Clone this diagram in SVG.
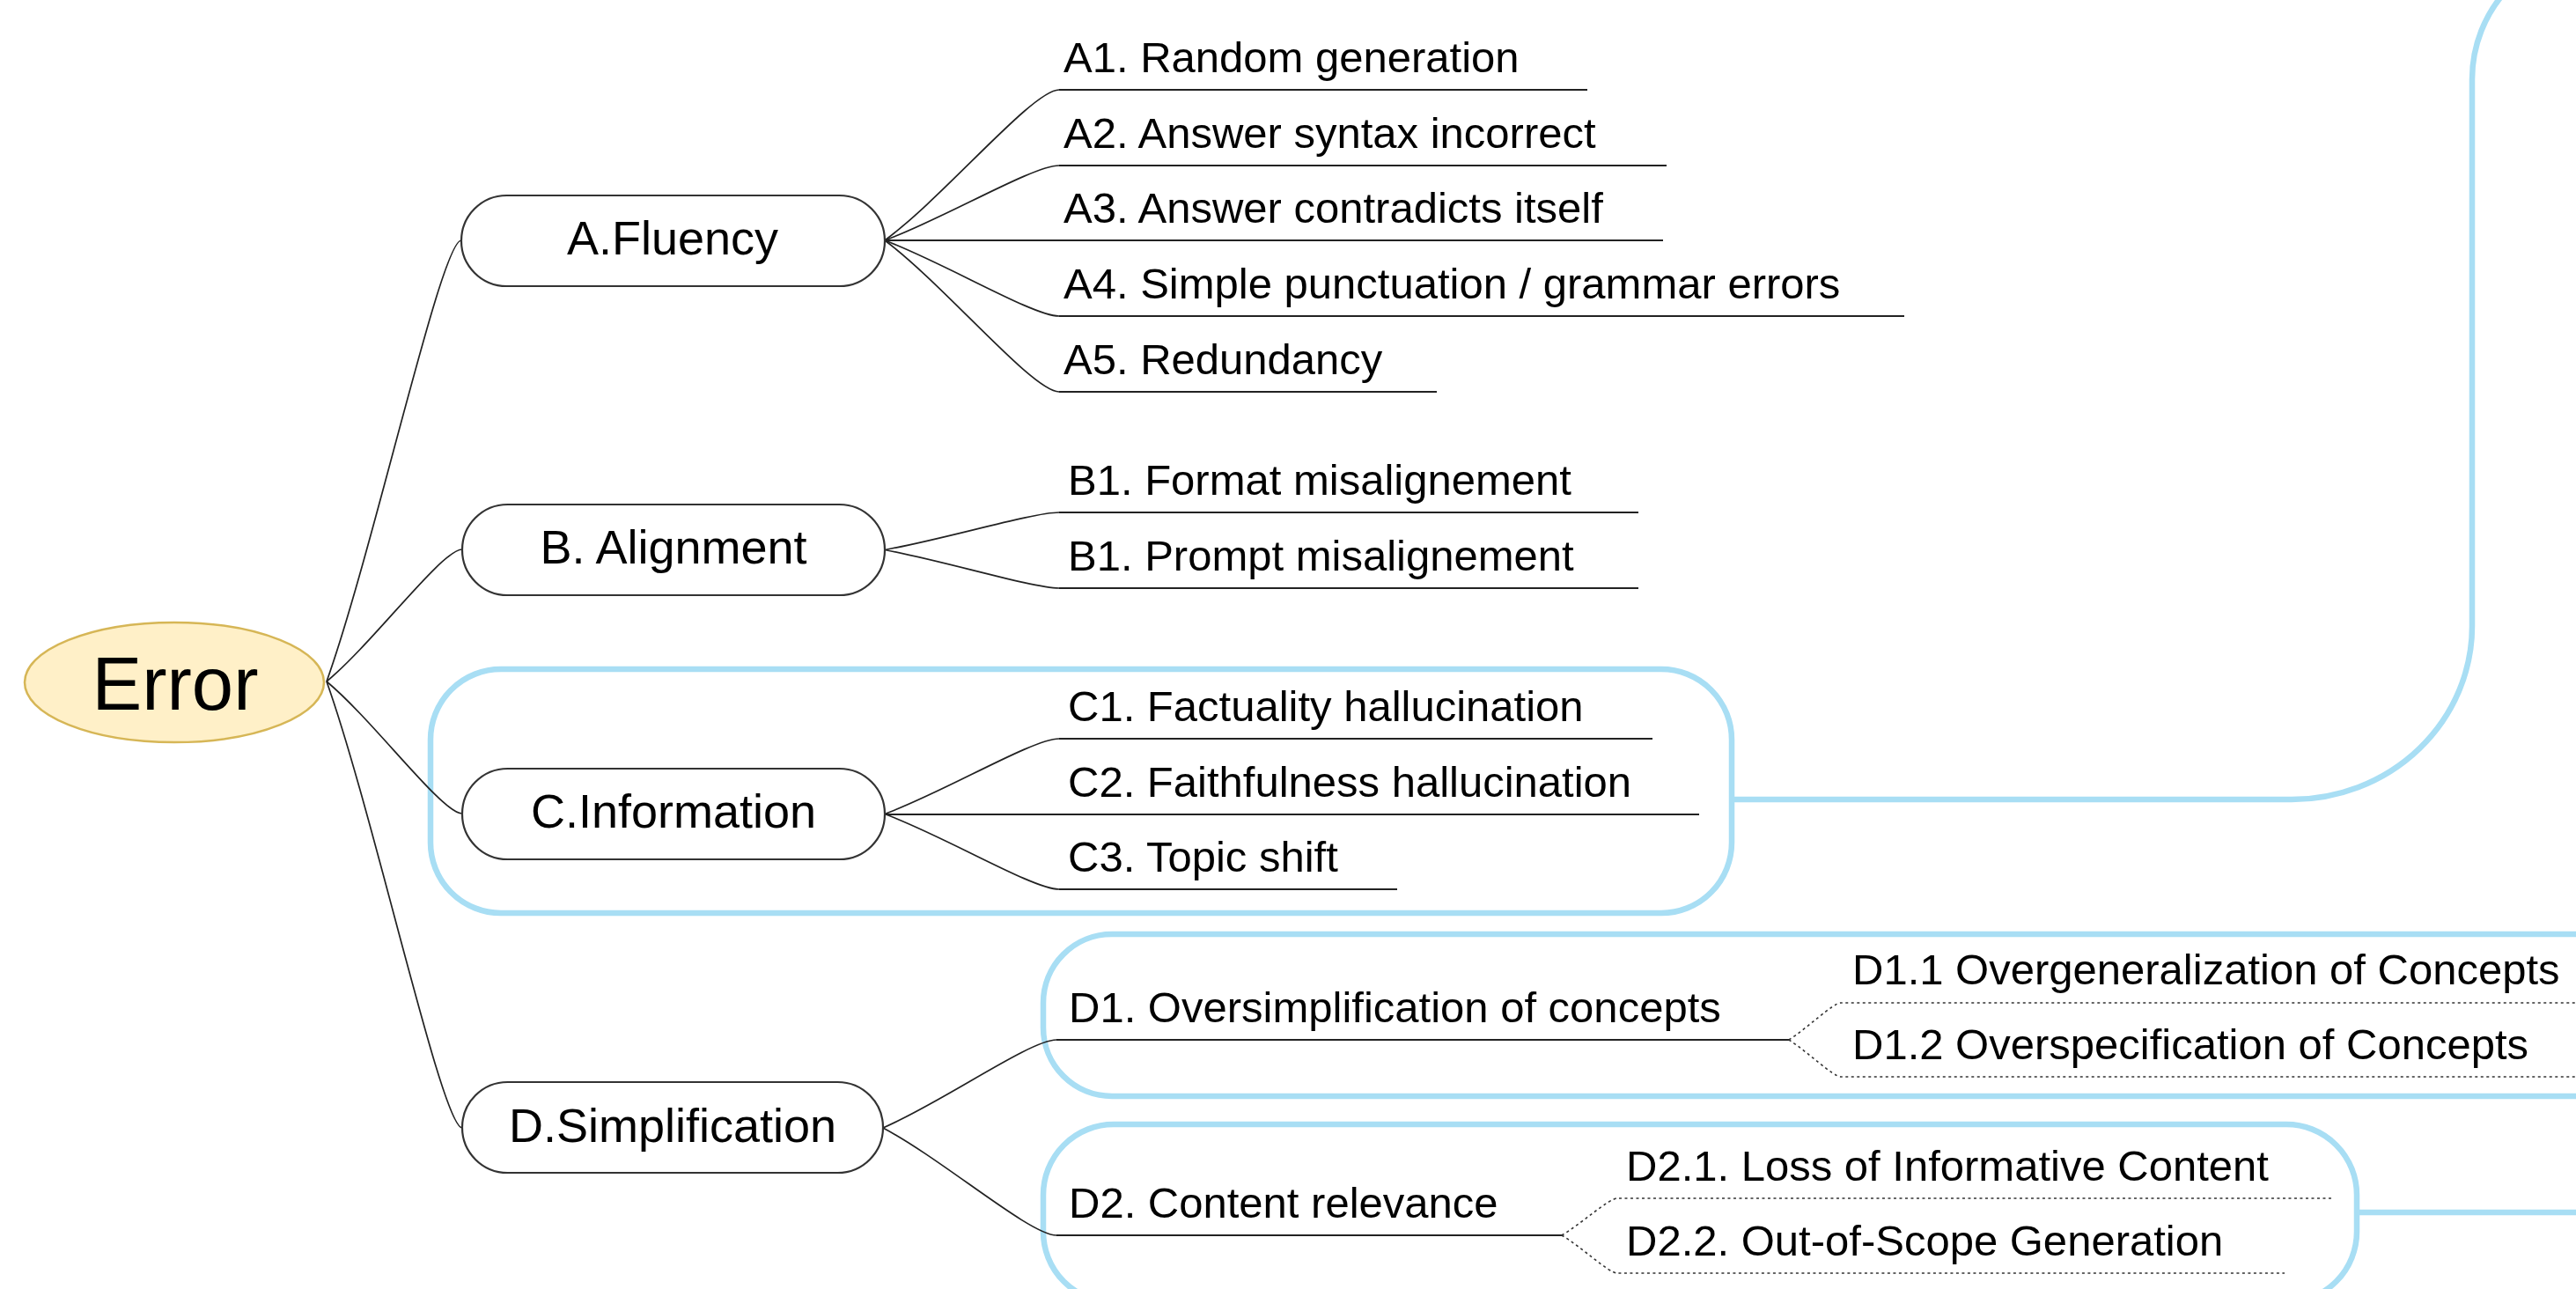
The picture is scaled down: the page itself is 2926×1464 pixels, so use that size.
<svg xmlns="http://www.w3.org/2000/svg" width="2926" height="1464" viewBox="0 0 2926 1464">
<style>
.bg{fill:#ffffff}
.bound{fill:none;stroke:#A8DEF4;stroke-width:6.5}
.root{fill:#FFF0C8;stroke:#D6B656;stroke-width:2.5}
.topic{fill:#ffffff;stroke:#333333;stroke-width:2.2}
.curve{fill:none;stroke:#222222;stroke-width:1.7}
.under{fill:none;stroke:#222222;stroke-width:2.2}
.dot{fill:none;stroke:#333333;stroke-width:1.6;stroke-dasharray:3 3.5}
text{font-family:"Liberation Sans",Arial,Helvetica,sans-serif;fill:#000000}
.t-root{font-size:85px;text-anchor:middle}
.t-topic{font-size:54px;text-anchor:middle}
.t-sub{font-size:49px}
</style>
<rect class="bg" x="0" y="0" width="2926" height="1464"/>

<g id="boundaries">
  <rect id="boundary-C" class="bound" x="489" y="760" width="1478" height="277" rx="80" ry="80"/>
  <rect id="boundary-D1" class="bound" x="1185" y="1061" width="1900" height="184" rx="78" ry="78"/>
  <rect id="boundary-D2" class="bound" x="1185" y="1277" width="1492" height="202" rx="80" ry="80"/>
  <path class="bound" d="M 1967 908 L 2603 908 A 205 197 0 0 0 2808 711 L 2808 90 A 150 150 0 0 1 2958 -60"/>
  <path class="bound" d="M 2677 1377 L 2940 1377"/>
</g>

<g id="connectors">
  <!-- root to topics -->
  <path class="curve" d="M 371 774 C 424.6 623.7, 501 273, 524 273"/>
  <path class="curve" d="M 371 774 C 425 729, 502 624, 525 624"/>
  <path class="curve" d="M 371 774 C 425 819, 502 924, 525 924"/>
  <path class="curve" d="M 371 774 C 425 926, 502 1281, 525 1281"/>
  <!-- A -->
  <path class="curve" d="M 1005 273 C 1074 222, 1173 102, 1203 102"/>
  <path class="under" d="M 1203 102 L 1803 102"/>
  <path class="curve" d="M 1005 273 C 1074 247.5, 1173 188, 1203 188"/>
  <path class="under" d="M 1203 188 L 1893 188"/>
  <path class="under" d="M 1005 273 L 1889 273"/>
  <path class="curve" d="M 1005 273 C 1074 299, 1173 359, 1203 359"/>
  <path class="under" d="M 1203 359 L 2163 359"/>
  <path class="curve" d="M 1005 273 C 1074 324.6, 1173 445, 1203 445"/>
  <path class="under" d="M 1203 445 L 1632 445"/>
  <!-- B -->
  <path class="curve" d="M 1005 624.5 C 1074 612, 1173 582, 1203 582"/>
  <path class="under" d="M 1203 582 L 1861 582"/>
  <path class="curve" d="M 1005 624.5 C 1074 637.5, 1173 668, 1203 668"/>
  <path class="under" d="M 1203 668 L 1861 668"/>
  <!-- C -->
  <path class="curve" d="M 1005 924.5 C 1074 899, 1173 839, 1203 839"/>
  <path class="under" d="M 1203 839 L 1877 839"/>
  <path class="under" d="M 1005 925 L 1930 925"/>
  <path class="curve" d="M 1005 924.5 C 1074 950, 1173 1010, 1203 1010"/>
  <path class="under" d="M 1203 1010 L 1587 1010"/>
  <!-- D -->
  <path class="curve" d="M 1003 1281 C 1072 1251, 1170 1181, 1200 1181"/>
  <path class="under" d="M 1200 1181 L 2032 1181"/>
  <path class="curve" d="M 1003 1281 C 1072 1317.6, 1170 1403, 1200 1403"/>
  <path class="under" d="M 1200 1403 L 1774 1403"/>
  <!-- D1 subs (dotted) -->
  <path class="dot" d="M 2032 1181 C 2052.6 1168, 2082 1139, 2091 1139 L 2940 1139"/>
  <path class="dot" d="M 2032 1181 C 2052.6 1194, 2082 1223, 2091 1223 L 2940 1223"/>
  <!-- D2 subs (dotted) -->
  <path class="dot" d="M 1774 1403 C 1796 1390, 1827.5 1361, 1837 1361 L 2648 1361"/>
  <path class="dot" d="M 1774 1403 C 1796 1416, 1827.5 1446, 1837 1446 L 2595 1446"/>
</g>

<g id="node-error">
  <ellipse class="root" cx="198" cy="775" rx="170" ry="68"/>
  <text class="t-root" x="199" y="806">Error</text>
</g>

<g id="node-A">
  <rect class="topic" x="524" y="222" width="481" height="103" rx="51.5" ry="51.5"/>
  <text class="t-topic" x="764" y="289">A.Fluency</text>
</g>
<g id="node-B">
  <rect class="topic" x="525" y="573" width="480" height="103" rx="51.5" ry="51.5"/>
  <text class="t-topic" x="765" y="640">B. Alignment</text>
</g>
<g id="node-C">
  <rect class="topic" x="525" y="873" width="480" height="103" rx="51.5" ry="51.5"/>
  <text class="t-topic" x="765" y="940">C.Information</text>
</g>
<g id="node-D">
  <rect class="topic" x="525" y="1229" width="478" height="103" rx="51.5" ry="51.5"/>
  <text class="t-topic" x="764" y="1297">D.Simplification</text>
</g>

<g id="node-A1"><text class="t-sub" x="1208" y="82">A1. Random generation</text></g>
<g id="node-A2"><text class="t-sub" x="1208" y="168">A2. Answer syntax incorrect</text></g>
<g id="node-A3"><text class="t-sub" x="1208" y="253">A3. Answer contradicts itself</text></g>
<g id="node-A4"><text class="t-sub" x="1208" y="339">A4. Simple punctuation / grammar errors</text></g>
<g id="node-A5"><text class="t-sub" x="1208" y="425">A5. Redundancy</text></g>

<g id="node-B1"><text class="t-sub" x="1213" y="562">B1. Format misalignement</text></g>
<g id="node-B2"><text class="t-sub" x="1213" y="648">B1. Prompt misalignement</text></g>

<g id="node-C1"><text class="t-sub" x="1213" y="819">C1. Factuality hallucination</text></g>
<g id="node-C2"><text class="t-sub" x="1213" y="905">C2. Faithfulness hallucination</text></g>
<g id="node-C3"><text class="t-sub" x="1213" y="990">C3. Topic shift</text></g>

<g id="node-D1"><text class="t-sub" x="1214" y="1161">D1. Oversimplification of concepts</text></g>
<g id="node-D2"><text class="t-sub" x="1214" y="1383">D2. Content relevance</text></g>

<g id="node-D1-1"><text class="t-sub" x="2104" y="1118">D1.1 Overgeneralization of Concepts</text></g>
<g id="node-D1-2"><text class="t-sub" x="2104" y="1203">D1.2 Overspecification of Concepts</text></g>
<g id="node-D2-1"><text class="t-sub" x="1847" y="1341">D2.1. Loss of Informative Content</text></g>
<g id="node-D2-2"><text class="t-sub" x="1847" y="1426">D2.2. Out-of-Scope Generation</text></g>
</svg>
